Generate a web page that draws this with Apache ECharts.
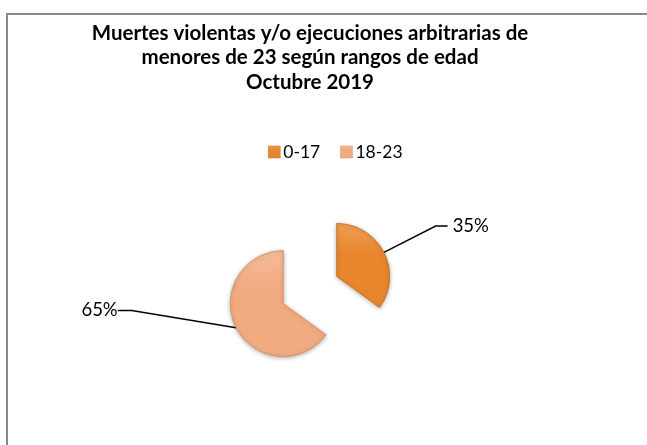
<!DOCTYPE html>
<html>
<head>
<meta charset="utf-8">
<script src="https://cdn.jsdelivr.net/npm/echarts@6/dist/echarts.min.js"></script>
<style>
    html, body { margin: 0; padding: 0; background: #fff; }
    #chart { width: 647px; height: 445px; }
</style>
</head>
<body>
<div id="chart"></div>
<script>
const titleLines = [
    'Muertes violentas y/o ejecuciones arbitrarias de',
    'menores de 23 según rangos de edad',
    'Octubre 2019'
];
const categories = ['0-17', '18-23'];
const values = [35, 65];
const baseColors = ['#e8862e', '#f2aa80'];
const lightColors = ['#efa055', '#f6bc98'];
const edgeColors = ['#c46a20', '#d48c64'];

const pieCenter = [310, 290];
const pieRadius = 53;
const explode = 30;

const chart = echarts.init(document.getElementById('chart'));

const shade = (i) => new echarts.graphic.LinearGradient(0, 0, 0, 1, [
    { offset: 0, color: lightColors[i] },
    { offset: 0.35, color: baseColors[i] },
    { offset: 1, color: baseColors[i] }
]);

// every slice is pulled out along its own middle angle (clockwise from 12 o'clock)
const total = values.reduce((a, b) => a + b, 0);
let acc = 0;
const sliceCenters = values.map((v) => {
    const mid = (acc + v / 2) / total * Math.PI * 2;
    acc += v;
    return [pieCenter[0] + explode * Math.sin(mid), pieCenter[1] - explode * Math.cos(mid)];
});

const labelLines = [{ length: 58, length2: 12 }, { length: 6, length2: 14 }];

const series = categories.map((cat, i) => ({
    type: 'pie',
    center: sliceCenters[i],
    radius: pieRadius,
    startAngle: 90,
    clockwise: true,
    emphasis: { disabled: true },
    label: {
        position: 'outer',
        fontFamily: 'Lato',
        fontSize: 18.5,
        color: '#000',
        formatter: (p) => Math.round(p.percent) + '%'
    },
    labelLine: { lineStyle: { color: '#000', width: 1.5 } },
    // the 65% label sits further left and a bit higher, like the original
    labelLayout: i === 1
        ? (p) => p.dataIndex === 1 ? {
            x: p.labelRect.x + p.labelRect.width - 94,
            y: p.labelRect.y + p.labelRect.height / 2 - 20
        } : {}
        : undefined,
    data: categories.map((c, j) => j === i ? {
        name: c,
        value: values[j],
        itemStyle: {
            color: shade(j),
            borderColor: edgeColors[j],
            borderWidth: 0.8,
            shadowColor: 'rgba(0,0,0,0.3)',
            shadowBlur: 4,
            shadowOffsetY: 1
        },
        label: { show: true },
        labelLine: Object.assign({ show: true }, labelLines[j])
    } : {
        name: c,
        value: values[j],
        itemStyle: { color: 'rgba(0,0,0,0)' },
        label: { show: false },
        labelLine: { show: false }
    })
}));

const option = {
    backgroundColor: '#fff',
    animation: false,
    // outer frame of the chart area
    graphic: [{
        type: 'rect',
        shape: { x: 7, y: 14, width: 700, height: 500 },
        style: { fill: 'none', stroke: '#898989', lineWidth: 2 },
        silent: true
    }],
    title: {
        text: titleLines.join('\n'),
        left: 310,
        top: 21,
        padding: 0,
        textAlign: 'center',
        textStyle: {
            fontFamily: 'Lato',
            fontWeight: 'bold',
            fontSize: 20.5,
            lineHeight: 24.5,
            color: '#000'
        }
    },
    legend: {
        left: 268,
        top: 143,
        padding: 0,
        itemWidth: 12,
        itemHeight: 12,
        itemGap: 20,
        icon: 'rect',
        textStyle: {
            fontFamily: 'Lato',
            fontSize: 17.5,
            color: '#000',
            padding: [0, 0, 0, -2]
        },
        data: categories.map((c, i) => ({
            name: c,
            itemStyle: { color: shade(i), borderColor: edgeColors[i], borderWidth: 0.5 }
        }))
    },
    series: series
};

chart.setOption(option);
</script>
</body>
</html>
